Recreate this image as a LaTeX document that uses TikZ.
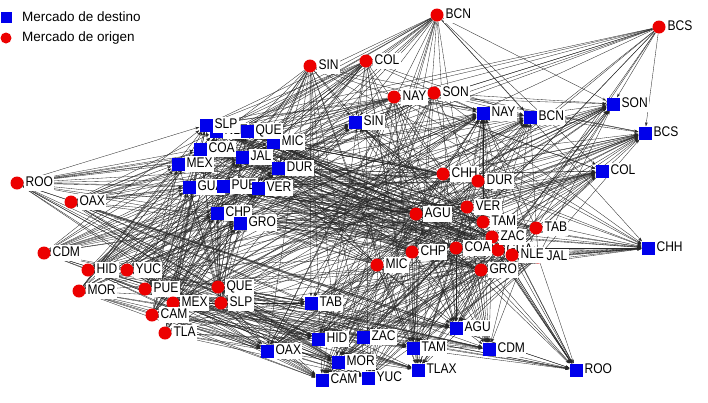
\documentclass[tikz,border=0pt]{standalone}
\usepackage{fontspec}
\setmainfont{Liberation Sans}
\newfontfamily\labfont[FakeStretch=0.86]{Liberation Sans}
\usetikzlibrary{arrows.meta}
\definecolor{destblue}{RGB}{0,0,235}
\definecolor{origred}{RGB}{236,0,0}
\pgfdeclarelayer{bg}
\pgfdeclarelayer{edges}
\pgfsetlayers{bg,edges,main}
\tikzset{
  dest/.style={rectangle,fill=destblue,minimum size=13pt,inner sep=0pt},
  orig/.style={circle,fill=origred,minimum size=13pt,inner sep=0pt},
  lab/.style={fill=white,inner sep=1.2pt,text height=10pt,text depth=2.8pt,
              font=\labfont\fontsize{14}{14}\selectfont,label distance=0.5pt},
  edge/.style={draw=black!85,line width=0.33pt,-{Stealth[length=4pt,width=2.6pt]}},
  legtext/.style={anchor=west,inner sep=0pt,font=\fontsize{13.5}{14}\selectfont},
}
\begin{document}
\begin{tikzpicture}[x=1pt,y=-1pt]
\begin{pgfonlayer}{bg}
\fill[white] (0,0) rectangle (708,402);
\end{pgfonlayer}
\useasboundingbox (0,0) rectangle (708,402);
% legend
\node[dest,minimum size=11pt] (legd) at (6,17) {};
\node[legtext] (legdt) at (22,17) {Mercado de destino};
\node[orig,minimum size=11pt] (lego) at (6,38) {};
\node[legtext] (legot) at (22,38) {Mercado de origen};
% destination markets
\foreach \n/\x/\y/\t in {NLE/216/131/NLE, SLP/206/125/SLP, MIC/273/142/MIC, QUE/247/131/QUE,
  COA/200/149/COA, JAL/242/157/JAL, DUR/278/168/DUR, MEX/178/164/MEX,
  GUA/189/187/GUA, PUE/223/186/PUE, VER/258/188/VER, CHP/217/213/CHP, GRO/240/223/GRO,
  SIN/355/122/SIN, NAY/483/113/NAY, BCN/530/117/BCN, SON/613/104/SON, BCS/645/133/BCS,
  COL/602/171/COL, CHH/648/248/CHH, TAB/311/303/TAB, OAX/267/351/OAX, HID/318/339/HID,
  ZAC/363/337/ZAC, MOR/338/362/MOR, CAM/322/380/CAM, YUC/368/378/YUC, TAM/413/348/TAM,
  TLAX/418/370/TLAX, AGU/456/328/AGU, CDM/489/349/CDM, ROO/576/370/ROO}
  \node[dest,label={[lab]0:\t}] (d\n) at (\x,\y) {};
% origin markets
\foreach \n/\x/\y in {BCN/437/15, BCS/659/27, SIN/310/66, COL/366/61, NAY/394/97, SON/434/93,
  ROO/17/183, OAX/71/202, CDM/44/253, HID/88/270, YUC/127/270, MOR/79/291, PUE/145/289,
  MEX/173/303, QUE/218/287, SLP/221/303, CAM/152/315, TLA/165/333, MIC/377/265,
  CHH/443/174, DUR/478/181, VER/467/207, AGU/416/214, TAM/483/222, GUA/498/250, ZAC/492/237,
  TAB/536/228, CHP/412/252, COA/456/248, JAL/538/257, NLE/512/255, GRO/481/270}
  \node[orig,label={[lab]0:\n}] (o\n) at (\x,\y) {};
% connectors
\begin{pgfonlayer}{edges}
\foreach \o [count=\i] in {BCN,BCS,SIN,COL,NAY,SON,ROO,OAX,CDM,HID,YUC,MOR,PUE,MEX,QUE,SLP,
  CAM,TLA,MIC,CHH,DUR,VER,AGU,TAM,GUA,ZAC,TAB,CHP,COA,JAL,NLE,GRO} {
  \foreach \d [count=\j] in {NLE,SLP,MIC,QUE,COA,JAL,DUR,MEX,GUA,PUE,VER,CHP,GRO,SIN,NAY,BCN,
    SON,BCS,COL,CHH,TAB,OAX,HID,ZAC,MOR,CAM,YUC,TAM,TLAX,AGU,CDM,ROO} {
    \pgfmathtruncatemacro{\r}{mod(\i*37+\j*53+\i*\j*11,100)}
    \ifnum\r<72 \draw[edge] (o\o) -- (d\d); \fi
  }
}
\end{pgfonlayer}
\end{tikzpicture}
\end{document}
